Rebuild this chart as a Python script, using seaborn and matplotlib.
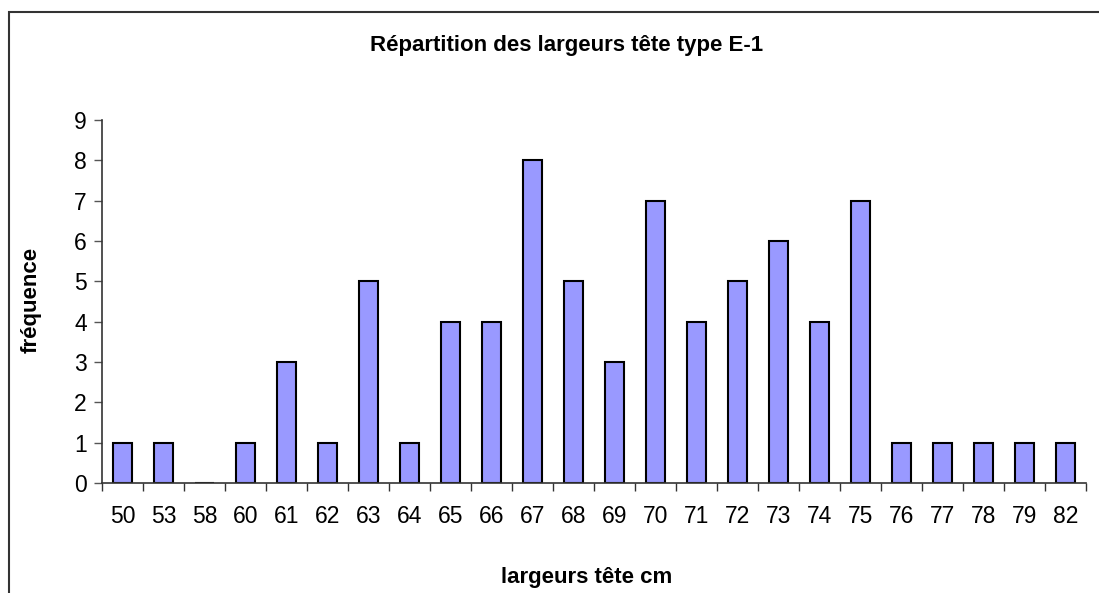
import matplotlib
matplotlib.use("Agg")
import matplotlib.pyplot as plt
import seaborn as sns
import pandas as pd
from matplotlib.patches import Rectangle
from matplotlib.ticker import FixedLocator, NullFormatter

categories = ["50", "53", "58", "60", "61", "62", "63", "64", "65", "66", "67", "68",
              "69", "70", "71", "72", "73", "74", "75", "76", "77", "78", "79", "82"]
values = [1, 1, 0, 1, 3, 1, 5, 1, 4, 4, 8, 5, 3, 7, 4, 5, 6, 4, 7, 1, 1, 1, 1, 1]
yticks = list(range(0, 10))

title = "Répartition des largeurs tête type E-1"
xlabel = "largeurs tête cm"
ylabel = "fréquence"

sns.set_theme(style="white")
plt.rcParams["font.family"] = ["Liberation Sans", "DejaVu Sans"]
plt.rcParams["text.color"] = "black"

df = pd.DataFrame({"cat": categories, "val": values})

fig = plt.figure(figsize=(10.99, 5.93), dpi=100)
ax = fig.add_axes([102 / 1099, 1 - 483 / 593, (1086 - 102) / 1099, (483 - 120) / 593])

sns.barplot(data=df, x="cat", y="val", order=categories, color="#9999FF",
            saturation=1, width=0.46, edgecolor="black", linewidth=1.5, ax=ax)

ax.set_xlim(-0.5, len(categories) - 0.5)
ax.set_ylim(0, 9)
ax.set_yticks(yticks)
ax.set_yticklabels([str(t) for t in yticks], fontsize=16.5)
ax.set_xticks(range(len(categories)))
ax.set_xticklabels(categories, fontsize=16.5)
ax.xaxis.set_minor_locator(FixedLocator([i - 0.5 for i in range(len(categories) + 1)]))
ax.xaxis.set_minor_formatter(NullFormatter())
ax.tick_params(axis="x", which="major", length=0, pad=16, labelcolor="black")
ax.tick_params(axis="x", which="minor", length=6, width=1, color="#333333", direction="out", bottom=True)
ax.tick_params(axis="y", which="major", length=6, width=1, color="#555555", direction="out",
               left=True, pad=5, labelcolor="black")

for s in ["top", "right"]:
    ax.spines[s].set_visible(False)
for s in ["left", "bottom"]:
    ax.spines[s].set_color("#333333")
    ax.spines[s].set_linewidth(1.2)
    ax.spines[s].set_zorder(5)

ax.set_xlabel("")
ax.set_ylabel("")
ax.grid(False)

fig.text(567 / 1099, 1 - 45 / 593, title, ha="center", va="center", fontsize=16,
         fontweight="bold", color="black")
fig.text(587 / 1099, 1 - 578 / 593, xlabel, ha="center", va="center", fontsize=16,
         fontweight="bold", color="black")
fig.text(31 / 1099, 1 - 300 / 593, ylabel, ha="center", va="center", rotation=90,
         fontsize=16, fontweight="bold", color="black")

border = Rectangle((9 / 1099, -0.2), 1.5, 1 - 12 / 593 + 0.2, transform=fig.transFigure,
                   fill=False, edgecolor="#333333", linewidth=1.5, clip_on=False)
fig.patches.append(border)

fig.savefig("out.png", dpi=100, facecolor="white")
